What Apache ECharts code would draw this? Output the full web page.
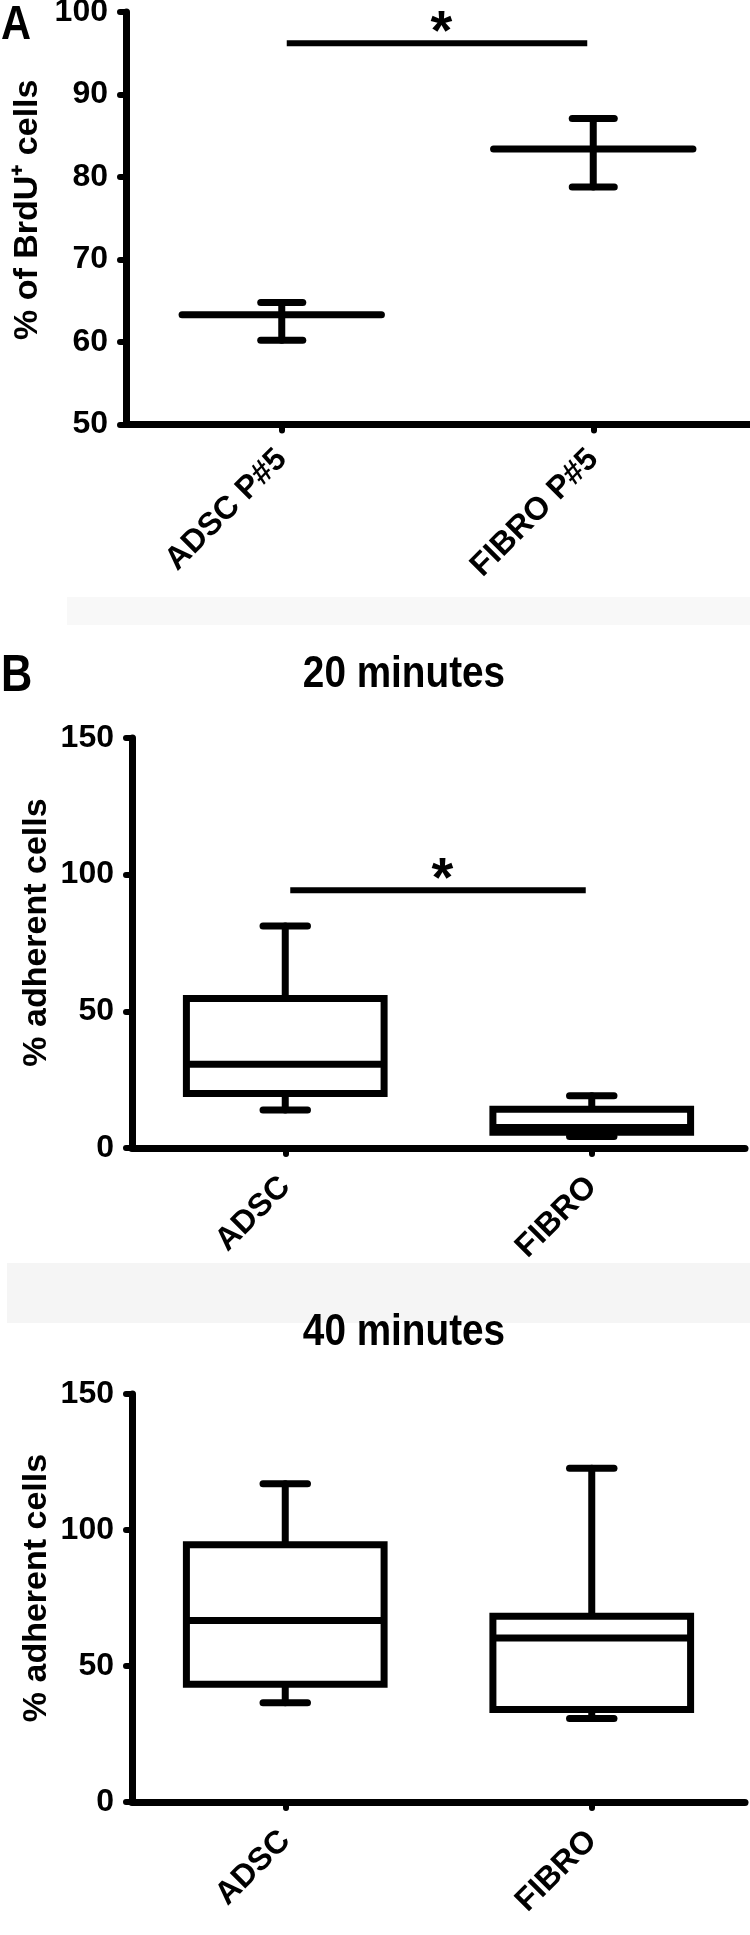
<!DOCTYPE html>
<html>
<head>
<meta charset="utf-8">
<script src="https://cdn.jsdelivr.net/npm/echarts@6/dist/echarts.min.js"></script>
<style>
html,body{margin:0;padding:0;background:#fff;}
#main{width:750px;height:1935px;}
</style>
</head>
<body>
<div id="main"></div>
<script>
// panel A : mean with error bars
var brduCats = ['ADSC P#5', 'FIBRO P#5'];
var brduMean = [63.3, 83.4];
var brduLow = [60.2, 78.8];
var brduHigh = [64.8, 87.1];
var sigA = [[0, 1, 96.2]];

// panel B : box plots, [min, q1, median, q3, max]
var adhCats = ['ADSC', 'FIBRO'];
var adh20 = [[13.9, 19.9, 30.6, 54.7, 81.2], [4.2, 5.8, 7.5, 14.2, 19.1]];
var adh40 = [[36.5, 43.3, 66.7, 94.6, 117.0], [30.7, 34.0, 60.3, 68.3, 122.7]];
var sigB = [[0, 1, 94.3]];

var FONT = '"Liberation Sans", Arial, Helvetica, sans-serif';
var dom = document.getElementById('main');
var myChart = echarts.init(dom);

function meanItem(params, api) {
    var x = api.value(0);
    var m = api.coord([x, api.value(1)]);
    var l = api.coord([x, api.value(2)]);
    var h = api.coord([x, api.value(3)]);
    var band = api.size([1, 0])[0];
    var mw = band * 0.64, cw = band * 0.135;
    var st = {stroke: '#000', lineWidth: 7, lineCap: 'round'};
    return {type: 'group', children: [
        {type: 'line', shape: {x1: m[0], y1: h[1], x2: m[0], y2: l[1]}, style: st},
        {type: 'line', shape: {x1: m[0] - cw / 2, y1: h[1], x2: m[0] + cw / 2, y2: h[1]}, style: st},
        {type: 'line', shape: {x1: m[0] - cw / 2, y1: l[1], x2: m[0] + cw / 2, y2: l[1]}, style: st},
        {type: 'line', shape: {x1: m[0] - mw / 2, y1: m[1], x2: m[0] + mw / 2, y2: m[1]}, style: st}
    ]};
}

function boxItem(params, api) {
    var x = api.value(0);
    var lo = api.coord([x, api.value(1)]);
    var q1 = api.coord([x, api.value(2)]);
    var md = api.coord([x, api.value(3)]);
    var q3 = api.coord([x, api.value(4)]);
    var hi = api.coord([x, api.value(5)]);
    var band = api.size([1, 0])[0];
    var bw = band * 0.645, cw = band * 0.145;
    var cx = lo[0];
    var st = {stroke: '#000', lineWidth: 7, lineCap: 'round'};
    return {type: 'group', children: [
        {type: 'line', shape: {x1: cx, y1: hi[1], x2: cx, y2: q3[1]}, style: st},
        {type: 'line', shape: {x1: cx, y1: q1[1], x2: cx, y2: lo[1]}, style: st},
        {type: 'line', shape: {x1: cx - cw / 2, y1: hi[1], x2: cx + cw / 2, y2: hi[1]}, style: st},
        {type: 'line', shape: {x1: cx - cw / 2, y1: lo[1], x2: cx + cw / 2, y2: lo[1]}, style: st},
        {type: 'rect', shape: {x: cx - bw / 2, y: q3[1], width: bw, height: q1[1] - q3[1]},
            style: {stroke: '#000', lineWidth: 7, fill: '#fff'}},
        {type: 'line', shape: {x1: cx - bw / 2, y1: md[1], x2: cx + bw / 2, y2: md[1]},
            style: {stroke: '#000', lineWidth: 7}}
    ]};
}

function sigItem(params, api) {
    var a = api.coord([api.value(0), api.value(2)]);
    var b = api.coord([api.value(1), api.value(2)]);
    return {type: 'group', children: [
        {type: 'line', shape: {x1: a[0] + 5, y1: a[1], x2: b[0] - 6, y2: b[1]},
            style: {stroke: '#000', lineWidth: 6}},
        {type: 'text', x: (a[0] + b[0]) / 2 + 4, y: a[1] - 10,
            style: {text: '*', font: 'bold 56px ' + FONT, fill: '#000', align: 'center', verticalAlign: 'middle'}}
    ]};
}

function xAx(gi, cats, margin) {
    return {
        type: 'category', gridIndex: gi, data: cats, boundaryGap: true,
        axisLine: {show: true, onZero: false, lineStyle: {color: '#000', width: 7, cap: 'round'}},
        axisTick: {show: true, alignWithLabel: true, length: 6, lineStyle: {color: '#000', width: 6, cap: 'round'}},
        axisLabel: {rotate: 45, margin: margin, interval: 0, fontFamily: FONT, fontWeight: 'bold', fontSize: 32, color: '#000'},
        splitLine: {show: false}
    };
}

function yAx(gi, min, max, step, name, gap, shift) {
    return {
        type: 'value', gridIndex: gi, min: min, max: max, interval: step,
        name: name, nameLocation: 'middle', nameRotate: 90, nameGap: gap, nameMoveOverlap: false,
        nameTextStyle: {fontFamily: FONT, fontWeight: 'bold', fontSize: 34, color: '#000', padding: [0, 0, 0, shift]},
        axisLine: {show: true, onZero: false, lineStyle: {color: '#000', width: 7, cap: 'round'}},
        axisTick: {show: true, length: 6, lineStyle: {color: '#000', width: 6, cap: 'round'}},
        axisLabel: {margin: 18, fontFamily: FONT, fontWeight: 'bold', fontSize: 32, color: '#000'},
        splitLine: {show: false}
    };
}

function label(text, x, y, size, sx, align) {
    return {type: 'text', x: x, y: y, scaleX: sx,
        style: {text: text, font: 'bold ' + size + 'px ' + FONT, fill: '#000', align: align, verticalAlign: 'middle'}};
}

var meanData = brduCats.map(function (c, i) { return [i, brduMean[i], brduLow[i], brduHigh[i]]; });
var box20 = adh20.map(function (d, i) { return [i].concat(d); });
var box40 = adh40.map(function (d, i) { return [i].concat(d); });

var option = {
    backgroundColor: '#fff',
    animation: false,
    grid: [
        {left: 126, top: 12, width: 623, height: 412.5, outerBoundsMode: 'none'},
        {left: 132, top: 738, width: 613, height: 410, outerBoundsMode: 'none'},
        {left: 132, top: 1394, width: 613, height: 408, outerBoundsMode: 'none'}
    ],
    xAxis: [xAx(0, brduCats, 30), xAx(1, adhCats, 34), xAx(2, adhCats, 34)],
    yAxis: [
        yAx(0, 50, 100, 10, '% of BrdU\u207A cells', 81, 17),
        yAx(1, 0, 150, 50, '% adherent cells', 78, 21),
        yAx(2, 0, 150, 50, '% adherent cells', 78, 20)
    ],
    graphic: [
        {type: 'rect', silent: true, z: -10, shape: {x: 67, y: 597, width: 683, height: 28}, style: {fill: '#f8f8f8'}},
        {type: 'rect', silent: true, z: -10, shape: {x: 7, y: 1263, width: 743, height: 60}, style: {fill: '#f5f5f5'}},
        label('A', 1, 25, 49, 0.85, 'left'),
        label('B', 1, 677, 51, 0.85, 'left'),
        label('20 minutes', 404, 675, 44, 0.88, 'center'),
        label('40 minutes', 404, 1333, 44, 0.88, 'center')
    ],
    series: [
        {type: 'custom', xAxisIndex: 0, yAxisIndex: 0, renderItem: meanItem, clip: false,
            encode: {x: 0, y: [1, 2, 3]}, data: meanData},
        {type: 'custom', xAxisIndex: 0, yAxisIndex: 0, renderItem: sigItem, clip: false,
            encode: {x: 0, y: 2}, data: sigA},
        {type: 'custom', xAxisIndex: 1, yAxisIndex: 1, renderItem: boxItem, clip: false,
            encode: {x: 0, y: [1, 2, 3, 4, 5]}, data: box20},
        {type: 'custom', xAxisIndex: 1, yAxisIndex: 1, renderItem: sigItem, clip: false,
            encode: {x: 0, y: 2}, data: sigB},
        {type: 'custom', xAxisIndex: 2, yAxisIndex: 2, renderItem: boxItem, clip: false,
            encode: {x: 0, y: [1, 2, 3, 4, 5]}, data: box40}
    ]
};

if (option && typeof option === 'object') {
    myChart.setOption(option, true);
}
</script>
</body>
</html>
